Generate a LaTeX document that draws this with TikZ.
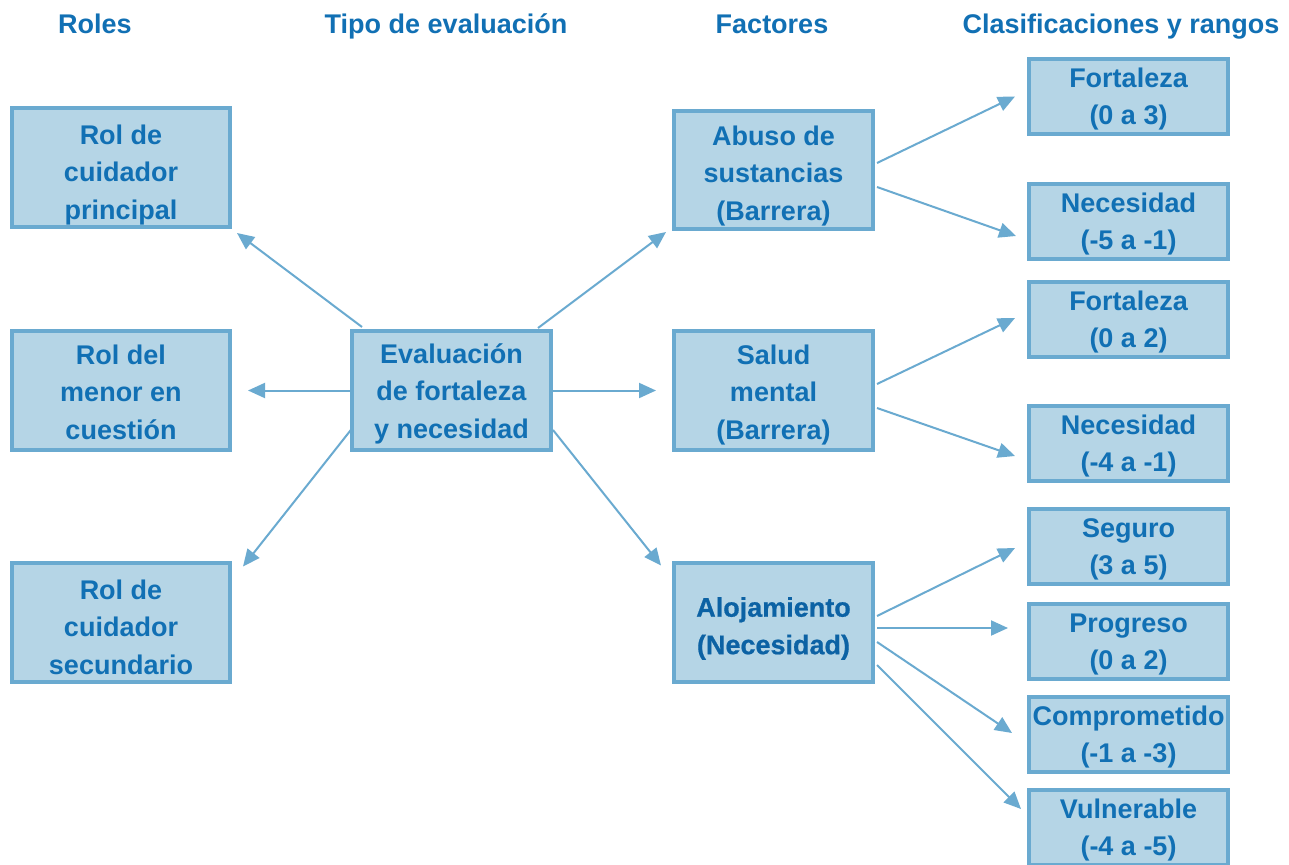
\documentclass[tikz,border=0pt]{standalone}
\usepackage{fontspec}
\setmainfont{Liberation Sans}
\newfontfamily\heavyfont{Liberation Sans}[BoldFeatures={FakeBold=0.7}]
\usetikzlibrary{calc,arrows.meta}
\definecolor{txtblue}{HTML}{1170B4}
\definecolor{txtdark}{HTML}{0C62A4}
\definecolor{boxfill}{HTML}{B5D5E6}
\definecolor{boxline}{HTML}{6AAAD0}
\newcommand\ts[1]{\rule{0pt}{\dimexpr 28.5pt+#1pt\relax}}
\newcommand\bs[1]{\rule[\dimexpr #1pt-9.1pt\relax]{0pt}{0pt}}
\tikzset{
  box/.style={draw=boxline, fill=boxfill, line width=4pt, inner sep=0pt, outer sep=0pt,
    align=center, text=txtblue, font=\fontsize{27}{37.5}\selectfont\bfseries},
  bigbox/.style={box, minimum width=199pt, minimum height=119pt},
  rolebox/.style={box, minimum width=218pt, minimum height=119pt},
  smallbox/.style={box, minimum width=199pt, minimum height=75pt},
  header/.style={text=txtblue, font=\fontsize{27}{32}\selectfont\bfseries, inner sep=0pt, anchor=base},
  conn/.style={draw=boxline, line width=2pt, -{Triangle[length=17pt,width=15pt]}}
}
\begin{document}
\begin{tikzpicture}[x=1pt,y=-1pt]
\clip (0,0) rectangle (1289,864);
\fill[white] (0,0) rectangle (1289,864);
% headers
\node[header] (h1) at (95,33.5) {Roles};
\node[header] (h2) at (446,33.5) {Tipo de evaluación};
\node[header] (h3) at (772,33.5) {Factores};
\node[header] (h4) at (1121,33.5) {Clasificaciones y rangos};
% roles
\node[rolebox] (L1) at (121,167.5) {\ts{5.5}Rol de\\cuidador\\principal\bs{5.5}};
\node[rolebox] (L2) at (121,390.5) {\ts{1.5}Rol del\\menor en\\cuestión\bs{1.5}};
\node[rolebox] (L3) at (121,622) {\ts{5}Rol de\\cuidador\\secundario\bs{5}};
% center
\node[bigbox] (E) at (451.5,390.5) {\ts{0.5}Evaluación\\de fortaleza\\y necesidad\bs{0.5}};
% factors
\node[bigbox, minimum height=118pt] (FA) at (773.5,170) {\ts{3}Abuso de\\sustancias\\(Barrera)\bs{3}};
\node[bigbox] (FB) at (773.5,390.5) {\ts{1.5}Salud\\mental\\(Barrera)\bs{1.5}};
\node[bigbox, text=txtdark, font=\fontsize{27}{37.5}\selectfont\heavyfont\bfseries] (FC) at (773.5,622) {\ts{4}Alojamiento\\(Necesidad)\bs{4}};
% classifications
\node[smallbox] (R1) at (1128.5,96.5) {\ts{0}Fortaleza\\(0 a 3)\bs{0}};
\node[smallbox] (R2) at (1128.5,221.5) {\ts{0}Necesidad\\(-5 a -1)\bs{0}};
\node[smallbox] (R3) at (1128.5,319.5) {\ts{0}Fortaleza\\(0 a 2)\bs{0}};
\node[smallbox] (R4) at (1128.5,443.5) {\ts{0}Necesidad\\(-4 a -1)\bs{0}};
\node[smallbox] (R5) at (1128.5,546.5) {\ts{0}Seguro\\(3 a 5)\bs{0}};
\node[smallbox] (R6) at (1128.5,641.5) {\ts{0}Progreso\\(0 a 2)\bs{0}};
\node[smallbox] (R7) at (1128.5,734.5) {\ts{0}Comprometido\\(-1 a -3)\bs{0}};
\node[smallbox] (R8) at (1128.5,827.5) {\ts{0}Vulnerable\\(-4 a -5)\bs{0}};
% connectors from center
\draw[conn] ($(E.north west)+(10,-4)$) -- ($(L1.south east)+(7,6)$);
\draw[conn] (E.west) -- ($(L2.east)+(18,0)$);
\draw[conn] ($(E.west)+(0,38)$) -- ($(L3.north east)+(13,4)$);
\draw[conn] ($(E.north east)+(-13,-3)$) -- ($(FA.south west)+(-8,3)$);
\draw[conn] (E.east) -- ($(FB.west)+(-18,0)$);
\draw[conn] ($(E.east)+(2,39.5)$) -- ($(FC.north west)+(-13,3)$);
% connectors from factors
\draw[conn] ($(FA.east)+(4,-7)$) -- ($(R1.west)+(-14,0)$);
\draw[conn] ($(FA.east)+(4,17)$) -- ($(R2.west)+(-13,14.5)$);
\draw[conn] ($(FB.east)+(4,-6.5)$) -- ($(R3.west)+(-14,-1.5)$);
\draw[conn] ($(FB.east)+(4,17.5)$) -- ($(R4.west)+(-14,12.5)$);
\draw[conn] ($(FC.east)+(4,-6)$) -- ($(R5.west)+(-14,1.5)$);
\draw[conn] ($(FC.east)+(4,6)$) -- ($(R6.west)+(-21,-13.5)$);
\draw[conn] ($(FC.east)+(4,20)$) -- ($(R7.west)+(-17,-1.5)$);
\draw[conn] ($(FC.east)+(4,43)$) -- ($(R8.west)+(-8,-18.5)$);
\end{tikzpicture}
\end{document}
